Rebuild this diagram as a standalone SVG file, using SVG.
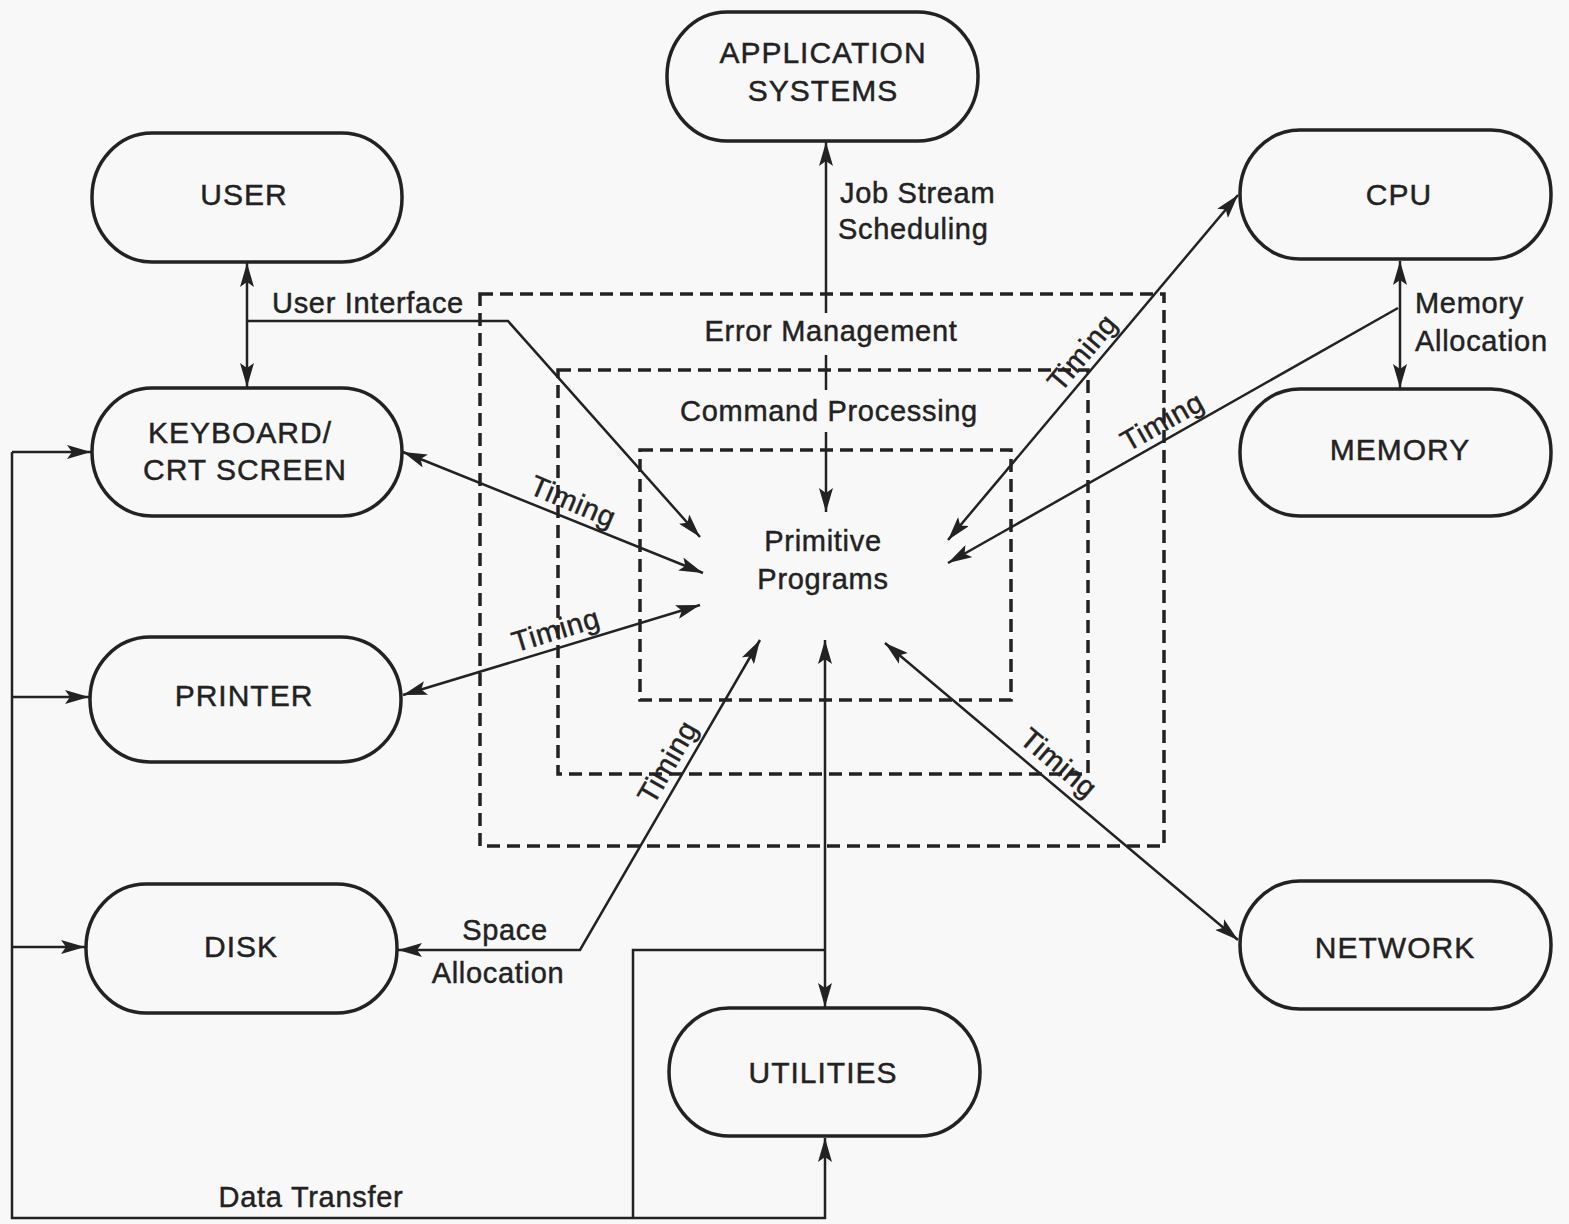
<svg xmlns="http://www.w3.org/2000/svg" width="1569" height="1224" viewBox="0 0 1569 1224">
  <defs>
    <style>
      .node { fill: none; stroke: #222; stroke-width: 3.5; }
      .layer { fill: none; stroke: #222; stroke-width: 3.5; stroke-dasharray: 13 7; }
      .wire { fill: none; stroke: #222; stroke-width: 2.5; }
      .arr { marker-end: url(#ah); }
      .arr2 { marker-start: url(#ah); marker-end: url(#ah); }
      text { font-family: "Liberation Sans", Arial, sans-serif; fill: #222; stroke: #222; stroke-width: 0.45; }
      .nl { font-size: 30px; text-anchor: middle; letter-spacing: 1px; }
      .lb { font-size: 29px; letter-spacing: 0.7px; }
      .mid { text-anchor: middle; }
    </style>
    <marker id="ah" viewBox="0 0 24 14" refX="24" refY="7" markerWidth="24" markerHeight="14" markerUnits="userSpaceOnUse" orient="auto-start-reverse">
      <path d="M0,0 L24,7 L0,14 L5,7 z" fill="#222"/>
    </marker>
  </defs>

  <rect width="1569" height="1224" fill="#f8f8f8"/>

  <!-- nested operating-system layers -->
  <g id="layers">
    <rect class="layer" x="480" y="294" width="684" height="552"/>
    <rect class="layer" x="558" y="370" width="530" height="404"/>
    <rect class="layer" x="640" y="450" width="371" height="250"/>
    <text class="lb mid" x="831" y="341">Error Management</text>
    <text class="lb mid" x="829" y="421">Command Processing</text>
  </g>

  <!-- nodes -->
  <g id="application-systems">
    <rect class="node" x="667" y="12" width="311" height="129" rx="60" ry="64"/>
    <text class="nl" x="823" y="63">APPLICATION</text>
    <text class="nl" x="823" y="101">SYSTEMS</text>
  </g>
  <g id="user">
    <rect class="node" x="92" y="133" width="310" height="129" rx="60" ry="64"/>
    <text class="nl" x="244" y="205">USER</text>
  </g>
  <g id="keyboard">
    <rect class="node" x="92" y="388" width="310" height="128" rx="60" ry="64"/>
    <text class="nl" x="240" y="443">KEYBOARD/</text>
    <text class="nl" x="245" y="480">CRT SCREEN</text>
  </g>
  <g id="printer">
    <rect class="node" x="90" y="637" width="311" height="125" rx="60" ry="62"/>
    <text class="nl" x="244" y="706">PRINTER</text>
  </g>
  <g id="disk">
    <rect class="node" x="86" y="884" width="311" height="129" rx="60" ry="64"/>
    <text class="nl" x="241" y="957">DISK</text>
  </g>
  <g id="utilities">
    <rect class="node" x="669" y="1008" width="311" height="128" rx="60" ry="64"/>
    <text class="nl" x="823" y="1083">UTILITIES</text>
  </g>
  <g id="cpu">
    <rect class="node" x="1240" y="130" width="311" height="129" rx="60" ry="64"/>
    <text class="nl" x="1399" y="205">CPU</text>
  </g>
  <g id="memory">
    <rect class="node" x="1240" y="389" width="311" height="127" rx="60" ry="63"/>
    <text class="nl" x="1400" y="460">MEMORY</text>
  </g>
  <g id="network">
    <rect class="node" x="1240" y="881" width="311" height="128" rx="60" ry="64"/>
    <text class="nl" x="1395" y="958">NETWORK</text>
  </g>
  <g id="primitive-programs">
    <text class="lb mid" x="823" y="551">Primitive</text>
    <text class="lb mid" x="823" y="589">Programs</text>
  </g>

  <!-- connectors -->
  <g id="connectors">
    <!-- job stream scheduling, broken where the layer names sit -->
    <path class="wire" d="M826,313 L826,142" marker-end="url(#ah)"/>
    <path class="wire" d="M826,355 L826,390"/>
    <path class="wire" d="M826,432 L826,512" marker-end="url(#ah)"/>
    <text class="lb" x="840" y="203">Job Stream</text>
    <text class="lb" x="838" y="239">Scheduling</text>

    <!-- user interface -->
    <path class="wire arr2" d="M247,263 L247,387"/>
    <path class="wire arr" d="M247,321 L508,321 L700,537"/>
    <text class="lb" x="272" y="313">User Interface</text>

    <!-- keyboard timing -->
    <path class="wire arr2" d="M403,452 L703,573"/>
    <text class="lb mid" transform="translate(566,518) rotate(23)" y="-8">Timing</text>

    <!-- printer timing -->
    <path class="wire arr2" d="M403,695 L700,605"/>
    <text class="lb mid" transform="translate(561,647) rotate(-16.86)" y="-8">Timing</text>

    <!-- disk space allocation -->
    <path class="wire arr2" d="M760,640 L580,950 L398,950"/>
    <text class="lb mid" transform="translate(683,771) rotate(-59.9)" y="-8">Timing</text>
    <text class="lb mid" x="505" y="940">Space</text>
    <text class="lb mid" x="498" y="983">Allocation</text>

    <!-- utilities and data transfer -->
    <path class="wire arr2" d="M825,640 L825,1007"/>
    <path class="wire arr" d="M12,452 L12,1218 L825,1218 L825,1138"/>
    <path class="wire" d="M633,1218 L633,950 L825,950"/>
    <path class="wire arr" d="M12,452 L91,452"/>
    <path class="wire arr" d="M12,697 L89,697"/>
    <path class="wire arr" d="M12,947 L85,947"/>
    <text class="lb mid" x="311" y="1207">Data Transfer</text>

    <!-- cpu timing -->
    <path class="wire arr2" d="M948,540 L1238,195"/>
    <text class="lb mid" transform="translate(1096,364) rotate(-49.9)" y="-8">Timing</text>

    <!-- memory allocation -->
    <path class="wire arr2" d="M1400,261 L1400,388"/>
    <text class="lb" x="1415" y="313">Memory</text>
    <text class="lb" x="1415" y="351">Allocation</text>
    <path class="wire arr" d="M1398,308 L948,563"/>
    <text class="lb mid" transform="translate(1171,437) rotate(-29.5)" y="-8">Timing</text>

    <!-- network timing -->
    <path class="wire arr2" d="M885,643 L1238,940"/>
    <text class="lb mid" transform="translate(1048,776) rotate(40.1)" y="-7">Timing</text>
  </g>
</svg>
